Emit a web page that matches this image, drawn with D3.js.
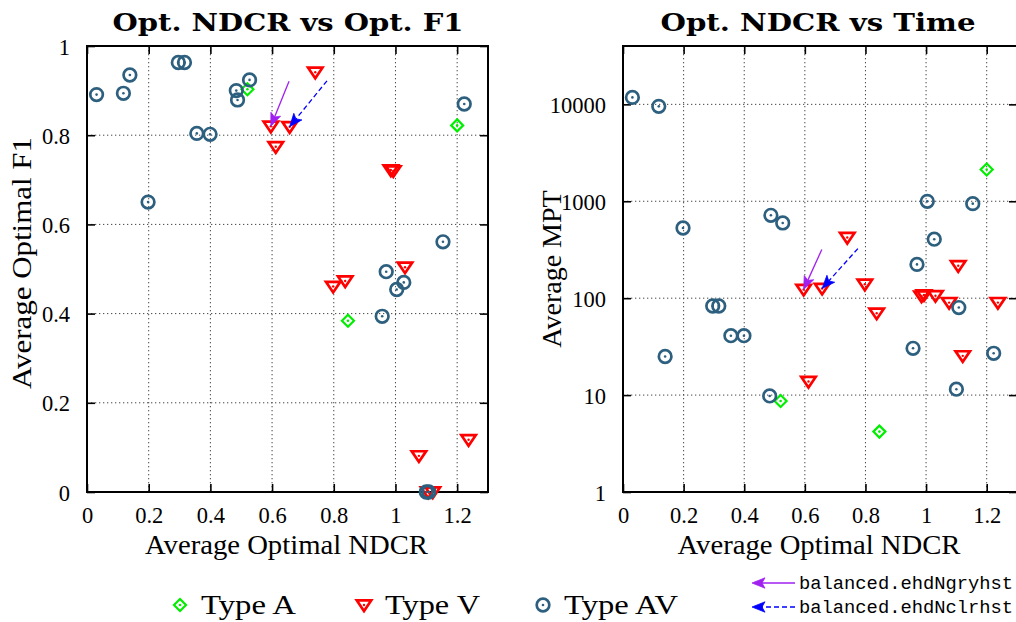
<!DOCTYPE html>
<html>
<head>
<meta charset="utf-8">
<script src="https://cdn.jsdelivr.net/npm/d3@7"></script>
<style>
  html, body { margin: 0; padding: 0; background: #fff; }
  svg { display: block; }
  text { font-family: "Liberation Serif", "Times New Roman", serif; fill: #000; }
  .mono { font-family: "Liberation Mono", "DejaVu Sans Mono", monospace; }
  .title { font-family: "DejaVu Serif", serif; font-weight: bold; }
</style>
</head>
<body>
<svg id="chart" width="1016" height="622"></svg>
<script>
// ---- data ----------------------------------------------------------------
// Type A systems
const ndcrA = [0.520, 0.846, 1.200];
const f1A   = [0.903, 0.384, 0.822];
const mptA  = [8.7, 4.2, 2130];

// Type V systems
const ndcrV = [0.596, 0.612, 0.657, 0.740, 0.798, 0.837, 0.985, 0.993, 1.031, 1.076, 1.106, 1.121, 1.237];
const f1V   = [0.820, 0.774, 0.819, 0.941, 0.461, 0.473, 0.722, 0.720, 0.504, 0.081, 0.0, 0.0, 0.117];
const mptV  = [123, 13.8, 126, 422, 139, 70, 105, 108, 106, 90, 216, 25.4, 90];

// Type AV systems
const ndcrAV = [0.031, 0.118, 0.139, 0.198, 0.296, 0.316, 0.356, 0.399, 0.484, 0.488, 0.527, 0.957, 0.970, 1.004, 1.027, 1.100, 1.108, 1.154, 1.223];
const f1AV   = [0.891, 0.894, 0.935, 0.650, 0.963, 0.963, 0.804, 0.802, 0.900, 0.879, 0.924, 0.394, 0.494, 0.454, 0.470, 0.0, 0.0, 0.561, 0.870];
const mptAV  = [11800, 9530, 25, 530, 83, 83, 41, 41, 9.8, 716, 597, 30.4, 223, 998, 406, 11.5, 80, 945, 27];

// highlighted runs: arrow start -> arrow tip (ndcr, value)
const arrowNames = ["balanced.ehdNgryhst", "balanced.ehdNclrhst"];
const arrowF1  = [[[0.655, 0.921], [0.596, 0.820]], [[0.778, 0.922], [0.657, 0.819]]];
const arrowMPT = [[[0.656, 318], [0.596, 123]], [[0.775, 325], [0.657, 126]]];

// ticks and labels
const xTicks   = [0, 0.2, 0.4, 0.6, 0.8, 1, 1.2];
const f1Ticks  = [0, 0.2, 0.4, 0.6, 0.8, 1];
const mptTicks = [1, 10, 100, 1000, 10000];
const titles   = ["Opt. NDCR vs Opt. F1", "Opt. NDCR vs Time"];
const xLabel   = "Average Optimal NDCR";
const yLabels  = ["Average Optimal F1", "Average MPT"];
const typeNames = ["Type A", "Type V", "Type AV"];

// ---- styling -------------------------------------------------------------
const colA = "#00ee00", colV = "#ff0000", colAV = "#2d5f7f";
const arrowCols = ["#a020f0", "#0000ff"];
const arrowDash = [null, "5,3"];

const svg = d3.select("#chart");

// marker drawers
function mDiamond(g, c) {
  g.append("path").attr("d", "M0,-6L6,0L0,6L-6,0Z")
    .attr("fill", "none").attr("stroke", c).attr("stroke-width", 2.2);
  g.append("circle").attr("r", 1.3).attr("fill", c);
}
function mTriDown(g, c) {
  g.append("path").attr("d", "M-7.2,-4.6L7.2,-4.6L0,6Z")
    .attr("fill", "none").attr("stroke", c).attr("stroke-width", 2.7);
  g.append("circle").attr("r", 1.2).attr("fill", c);
}
function mCircle(g, c) {
  g.append("circle").attr("r", 6.3)
    .attr("fill", "none").attr("stroke", c).attr("stroke-width", 2.7);
  g.append("circle").attr("r", 1.3).attr("fill", c);
}

function drawArrow(g, x1, y1, x2, y2, col, dash) {
  const dx = x2 - x1, dy = y2 - y1, L = Math.hypot(dx, dy);
  const ux = dx / L, uy = dy / L, px = -uy, py = ux;
  const hl = 13, hw = 5.2, back = 10;
  g.append("line")
    .attr("x1", x1).attr("y1", y1)
    .attr("x2", x2 - ux * back).attr("y2", y2 - uy * back)
    .attr("stroke", col).attr("stroke-width", 1.3)
    .attr("stroke-dasharray", dash);
  const bx = x2 - ux * hl, by = y2 - uy * hl;
  const nx = x2 - ux * back, ny = y2 - uy * back;
  g.append("path")
    .attr("d", `M${x2},${y2}L${bx + px * hw},${by + py * hw}L${nx},${ny}L${bx - px * hw},${by - py * hw}Z`)
    .attr("fill", col).attr("stroke", col).attr("stroke-width", 0.8);
}

function panel(opt) {
  const { left, right, top, bottom } = opt;
  const g = svg.append("g");
  const x = d3.scaleLinear().domain([0, 1.3]).range([left, right]);
  const y = opt.y;

  // grid
  const grid = g.append("g").attr("stroke", "#444").attr("stroke-width", 1)
    .attr("stroke-dasharray", "1.3,2.7");
  grid.selectAll(".gx").data(xTicks.filter(t => t > 0)).join("line")
    .attr("x1", d => x(d)).attr("x2", d => x(d))
    .attr("y1", top).attr("y2", bottom);
  grid.selectAll(".gy").data(opt.yTicks.filter(t => t !== opt.yTicks[0] && y(t) > top + 1)).join("line")
    .attr("y1", d => y(d)).attr("y2", d => y(d))
    .attr("x1", left).attr("x2", right);

  // axes (inward ticks on all sides)
  const axB = g.append("g").attr("transform", `translate(0,${bottom})`)
    .call(d3.axisBottom(x).tickValues(xTicks).tickSize(-8).tickPadding(17).tickFormat(d3.format("")));
  const axT = g.append("g").attr("transform", `translate(0,${top})`)
    .call(d3.axisTop(x).tickValues(xTicks).tickSize(-8).tickFormat(""));
  const axL = g.append("g").attr("transform", `translate(${left},0)`)
    .call(d3.axisLeft(y).tickValues(opt.yTicks).tickSize(-8).tickPadding(17).tickFormat(opt.fmt));
  const axR = g.append("g").attr("transform", `translate(${right},0)`)
    .call(d3.axisRight(y).tickValues(opt.yTicks).tickSize(-8).tickFormat(""));
  [axB, axT, axL, axR].forEach(a => {
    a.select(".domain").remove();
    a.selectAll(".tick line").attr("stroke", "#000").attr("stroke-width", 1.6);
    a.selectAll("text").style("font-family", "Liberation Serif").style("font-size", "22.5px").attr("fill", "#000");
  });
  axB.selectAll("text").attr("dy", "0.6em");
  axL.selectAll("text").attr("dy", "0.36em");

  // frame
  g.append("rect").attr("x", left).attr("y", top)
    .attr("width", right - left).attr("height", bottom - top)
    .attr("fill", "none").attr("stroke", "#000").attr("stroke-width", 2);

  // points: A, then V, then AV on top
  const pts = g.append("g");
  const series = [
    [ndcrA, opt.valsA, mDiamond, colA],
    [ndcrV, opt.valsV, mTriDown, colV],
    [ndcrAV, opt.valsAV, mCircle, colAV]
  ];
  series.forEach(([xs, ys, fn, c]) => {
    xs.forEach((xv, i) => {
      const m = pts.append("g").attr("transform", `translate(${x(xv)},${y(ys[i])})`);
      fn(m, c);
    });
  });

  // highlighted runs
  opt.arrows.forEach((a, i) => {
    drawArrow(g, x(a[0][0]), y(a[0][1]), x(a[1][0]), y(a[1][1]), arrowCols[i], arrowDash[i]);
  });

  // title and labels
  g.append("text").attr("class", "title").attr("x", opt.titleX).attr("y", 31).attr("text-anchor", "middle")
    .style("font-size", "25px")
    .attr("textLength", opt.titleW).attr("lengthAdjust", "spacingAndGlyphs")
    .text(opt.title);
  g.append("text").attr("x", (left + right) / 2 - 1).attr("y", 554).attr("text-anchor", "middle")
    .style("font-size", "28px").attr("textLength", 283).attr("lengthAdjust", "spacingAndGlyphs")
    .text(xLabel);
  const yl = g.append("text").attr("transform", `translate(${opt.yLabelX},${opt.yLabelY}) rotate(-90)`)
    .attr("text-anchor", "middle").style("font-size", "28px")
    .text(opt.yLabel);
  if (opt.yLabelW) yl.attr("textLength", opt.yLabelW).attr("lengthAdjust", "spacingAndGlyphs");
}

// left panel: F1
panel({
  left: 87, right: 488, top: 46, bottom: 492,
  y: d3.scaleLinear().domain([0, 1]).range([492, 46]),
  yTicks: f1Ticks, fmt: d3.format(""),
  valsA: f1A, valsV: f1V, valsAV: f1AV,
  arrows: arrowF1,
  title: titles[0], titleX: 288, titleW: 351,
  yLabel: yLabels[0], yLabelX: 31, yLabelY: 263, yLabelW: 252
});

// right panel: MPT (log scale)
panel({
  left: 623, right: 1017, top: 46, bottom: 492,
  y: d3.scaleLog().domain([1, 40000]).range([492, 46]),
  yTicks: mptTicks, fmt: d3.format("d"),
  valsA: mptA, valsV: mptV, valsAV: mptAV,
  arrows: arrowMPT,
  title: titles[1], titleX: 818, titleW: 315,
  yLabel: yLabels[1], yLabelX: 561, yLabelY: 269, yLabelW: null
});

// ---- legend ----------------------------------------------------------------
const leg = svg.append("g");
const legX = [180, 364, 543];
const legW = [95, 95, 114];
const legFns = [mDiamond, mTriDown, mCircle];
const legCols = [colA, colV, colAV];
typeNames.forEach((t, i) => {
  const m = leg.append("g").attr("transform", `translate(${legX[i]},${605})`);
  legFns[i](m, legCols[i]);
  leg.append("text").attr("x", legX[i] + 21).attr("y", 614)
    .style("font-size", "28px").attr("textLength", legW[i]).attr("lengthAdjust", "spacingAndGlyphs")
    .text(t);
});
arrowNames.forEach((n, i) => {
  const yy = 583 + i * 24;
  drawArrow(leg, 795, yy, 752, yy, arrowCols[i], arrowDash[i]);
  leg.append("text").attr("class", "mono").attr("x", 799).attr("y", yy + 6)
    .style("font-size", "18.8px").text(n);
});
</script>
</body>
</html>
